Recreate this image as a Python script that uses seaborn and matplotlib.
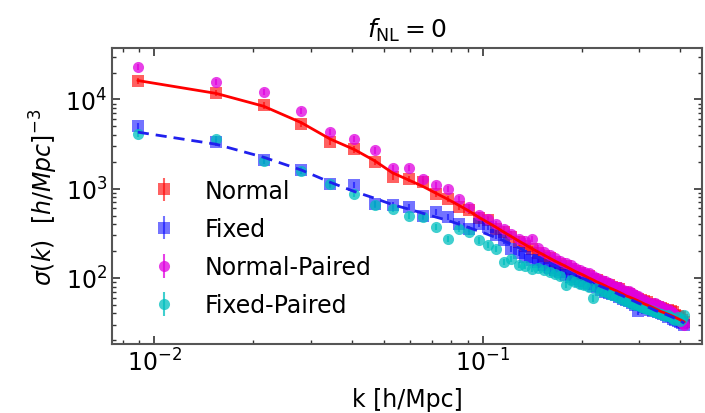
import numpy as np
import pandas as pd
import matplotlib
matplotlib.use("Agg")
import matplotlib.pyplot as plt
import seaborn as sns

# ---------------- data ----------------
k = [0.0089, 0.0154, 0.0215, 0.0280, 0.0343, 0.0406, 0.0469, 0.0532, 0.0595, 0.0657,
     0.0720, 0.0783, 0.0846, 0.0909, 0.0971, 0.1034, 0.1097, 0.1160, 0.1223, 0.1285,
     0.1348, 0.1411, 0.1474, 0.1537, 0.1599, 0.1662, 0.1725, 0.1788, 0.1851, 0.1913,
     0.1976, 0.2039, 0.2102, 0.2165, 0.2227, 0.2290, 0.2353, 0.2416, 0.2479, 0.2541,
     0.2604, 0.2667, 0.2730, 0.2793, 0.2855, 0.2918, 0.2981, 0.3044, 0.3107, 0.3169,
     0.3232, 0.3295, 0.3358, 0.3421, 0.3483, 0.3546, 0.3609, 0.3672, 0.3735, 0.3797,
     0.3860, 0.3923, 0.3986, 0.4049, 0.4111]

normal = [16300, 11800, 8570, 5350, 3330, 2750, 2000, 1350, 1300, 1200,
          880, 773, 630, 571, 470, 440, 356, 330, 290, 250,
          228, 210, 192, 178, 165, 152, 143, 135, 126, 118,
          112, 108, 104, 98, 95, 90, 86, 84, 80, 77,
          75, 70, 68, 66, 62, 60, 58, 57, 55, 53,
          51, 50, 48, 47, 46, 45, 42, 44, 43, 41,
          38, 37, 36, 34, 32]

fixed = [4990, 3300, 2070, 1600, 1140, 1110, 680, 650, 630, 500,
         550, 480, 405, 356, 405, 370, 300, 263, 213, 190,
         170, 158, 150, 140, 128, 122, 115, 108, 103, 97,
         92, 88, 86, 82, 79, 74, 70, 68, 66, 64,
         61, 58, 56, 55, 52, 50, 42, 49, 47, 46,
         44, 43, 45, 41, 40, 39, 38, 36, 37, 35,
         34, 33, 32, 31, 30]

normal_paired = [23400, 15900, 12100, 7400, 4320, 3630, 2690, 1720, 1700, 1290,
                 1090, 1000, 773, 624, 502, 461, 405, 356, 312, 275,
                 262, 275, 215, 197, 180, 165, 155, 145, 138, 128,
                 122, 115, 112, 104, 100, 95, 92, 88, 84, 80,
                 78, 74, 70, 72, 67, 65, 62, 58, 56, 54,
                 52, 50, 52, 50, 48, 46, 44, 45, 43, 40,
                 38, 36, 33, 31, 30]

fixed_paired = [4130, 3600, 2050, 1580, 1120, 880, 660, 590, 500, 482,
                372, 275, 356, 327, 263, 232, 213, 151, 164, 140,
                135, 127, 130, 122, 115, 110, 104, 83, 95, 90,
                86, 83, 80, 59, 76, 72, 69, 66, 64, 62,
                60, 57, 55, 53, 51, 50, 49, 47, 46, 45,
                44, 42, 41, 40, 39, 38, 37, 38, 36, 35,
                34, 36, 33, 35, 38]

normal_line = [16300, 11700, 8400, 5500, 3600, 2750, 2050, 1500, 1250, 1060,
               890, 760, 650, 560, 480, 420, 370, 325, 290, 260,
               235, 213, 195, 180, 166, 154, 144, 135, 126, 118,
               112, 106, 100, 95, 90, 86, 82, 78, 75, 72,
               69, 66, 63, 61, 59, 57, 55, 53, 51, 49.5,
               48, 46.5, 45, 43.5, 42, 41, 40, 39, 38, 37,
               36, 35, 34, 33, 32]

fixed_line = [4300, 3150, 2250, 1620, 1180, 930, 780, 660, 590, 530,
              480, 440, 400, 365, 335, 308, 283, 260, 238, 218,
              200, 184, 170, 158, 147, 137, 129, 121, 114, 108,
              102, 97, 92, 88, 84, 80, 77, 74, 71, 68,
              65, 63, 60, 58, 56, 54, 52, 50.5, 49, 47.5,
              46, 44.5, 43, 42, 41, 40, 39, 38, 37, 36,
              35, 34, 33, 32, 31]

err_frac = 0.08

series_names = ["Normal", "Fixed", "Normal-Paired", "Fixed-Paired"]

# ---------------- style ----------------
sns.set_theme(style="white")
plt.rcParams["font.family"] = ["DejaVu Sans"]
plt.rcParams["mathtext.fontset"] = "dejavusans"
for key in ["text.color", "axes.labelcolor", "xtick.color", "ytick.color"]:
    plt.rcParams[key] = "black"

fig = plt.figure(figsize=(7.05, 4.14), dpi=100)
ax = fig.add_axes([0.159, 0.167, 0.837, 0.715])

styles = [
    dict(data=normal, fmt="s", color="#ff0000", alpha=0.62, ms=8),
    dict(data=fixed, fmt="s", color="#0000ff", alpha=0.55, ms=8),
    dict(data=normal_paired, fmt="o", color="#e000e0", alpha=0.75, ms=8),
    dict(data=fixed_paired, fmt="o", color="#00bfbf", alpha=0.75, ms=8),
]
for name, st in zip(series_names, styles):
    y = np.array(st["data"], dtype=float)
    ax.errorbar(k, y, yerr=y * err_frac, fmt=st["fmt"], color=st["color"],
                alpha=st["alpha"], ms=st["ms"], mew=0, elinewidth=1.5,
                label=name, zorder=2)

df_lines = pd.DataFrame({"k": k, "normal_line": normal_line, "fixed_line": fixed_line})
sns.lineplot(data=df_lines, x="k", y="normal_line", ax=ax, color="#ff0000",
             lw=2, zorder=5, legend=False)
sns.lineplot(data=df_lines, x="k", y="fixed_line", ax=ax, color="#2020ee",
             lw=2, ls=(0, (4, 2.5)), zorder=5, legend=False)

ax.set_xscale("log")
ax.set_yscale("log")
ax.set_xlim(0.00743, 0.466)
ax.set_ylim(18.2, 37900)

ax.set_xlabel("k [h/Mpc]", fontsize=17, labelpad=8)
ax.set_ylabel(r"$\sigma(k)\ \ [h/Mpc]^{-3}$", fontsize=17, labelpad=4)
ax.set_title(r"$f_{\rm NL}=0$", fontsize=18, pad=8)

ax.tick_params(which="both", direction="in", top=True, right=True,
               bottom=True, left=True, labelsize=17)
ax.tick_params(which="major", length=6, width=1.2, color="#333333")
ax.tick_params(which="minor", length=3, width=1.0, color="#333333")
for sp in ax.spines.values():
    sp.set_color("#555555")
    sp.set_linewidth(1.5)

leg = ax.legend(loc="upper left", bbox_to_anchor=(0.02, 0.63), frameon=False,
                fontsize=17, handletextpad=0.9, labelspacing=0.6, handlelength=1.6)

fig.savefig("out.png", dpi=100)
